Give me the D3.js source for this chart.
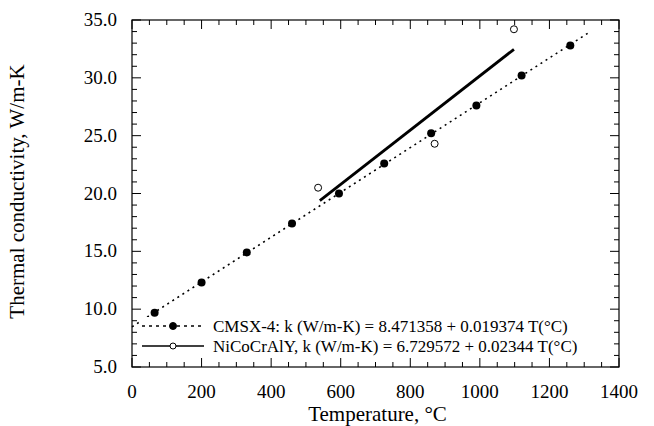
<!DOCTYPE html>
<html>
<head>
<meta charset="utf-8">
<script src="https://cdn.jsdelivr.net/npm/d3@7"></script>
<style>
  body { margin: 0; background: #fff; }
  text { font-family: "Liberation Serif", "Times New Roman", serif; fill: #000; }
</style>
</head>
<body>
<svg id="chart" width="654" height="426"></svg>
<script>
// CMSX-4 measured points (filled circles)
const cmsxT = [65, 200, 330, 460, 595, 725, 860, 990, 1120, 1260];
const cmsxK = [9.7, 12.3, 14.9, 17.4, 20.0, 22.6, 25.2, 27.6, 30.2, 32.8];
// NiCoCrAlY measured points (open circles)
const nicoT = [535, 870, 1098];
const nicoK = [20.5, 24.3, 34.2];
// fit lines: [intercept, slope, start, end]
const cmsxFit = [8.471358, 0.019374, 0, 1314];
const nicoFit = [6.729572, 0.02344, 540, 1098];
const xTicks = [0, 200, 400, 600, 800, 1000, 1200, 1400];
const yTicks = [5, 10, 15, 20, 25, 30, 35];
const legendLabels = [
  "CMSX-4: k (W/m-K) = 8.471358 + 0.019374 T(°C)",
  "NiCoCrAlY, k (W/m-K) = 6.729572 + 0.02344 T(°C)"
];

const margin = { top: 20, right: 35, bottom: 59, left: 132 },
  width = 654 - margin.left - margin.right,
  height = 426 - margin.top - margin.bottom;

const svg = d3.select("#chart")
  .append("g")
  .attr("transform", "translate(" + margin.left + "," + margin.top + ")");

const x = d3.scaleLinear().domain([0, 1400]).range([0, width]);
const y = d3.scaleLinear().domain([5, 35]).range([height, 0]);

// frame
svg.append("rect")
  .attr("width", width).attr("height", height)
  .attr("fill", "none").attr("stroke", "#000").attr("stroke-width", 1.2);

// fit lines
const line = d3.line().x(d => x(d[0])).y(d => y(d[1]));
const fitPts = f => [f[2], f[3]].map(t => [t, f[0] + f[1] * t]);

svg.append("path")
  .attr("d", line(fitPts(cmsxFit)))
  .attr("fill", "none").attr("stroke", "#000")
  .attr("stroke-width", 1.6).attr("stroke-dasharray", "2,4");

svg.append("path")
  .attr("d", line(fitPts(nicoFit)))
  .attr("fill", "none").attr("stroke", "#000")
  .attr("stroke-width", 2.8);

// legend
const leg = svg.append("g").attr("transform", "translate(10," + (height - 41) + ")");
legendLabels.forEach((lab, i) => {
  const g = leg.append("g").attr("transform", "translate(0," + (i * 20) + ")");
  g.append("rect").attr("x", -1).attr("y", -9).attr("width", 475).attr("height", 18).attr("fill", "#fff");
  g.append("line").attr("x1", 0).attr("x2", 62).attr("y1", 0).attr("y2", 0)
    .attr("stroke", "#000")
    .attr("stroke-width", i === 0 ? 1.3 : 1.6)
    .attr("stroke-dasharray", i === 0 ? "3,4" : null);
  g.append("circle").attr("cx", 31).attr("cy", 0).attr("r", i === 0 ? 3.5 : 3)
    .attr("fill", i === 0 ? "#000" : "#fff").attr("stroke", "#000");
  g.append("text").attr("x", 71).attr("y", 5.5).style("font-size", "17px").text(lab);
});

// minor + major ticks, all four sides, pointing inward
const xMinor = d3.range(0, 1401, 50);
const yMinor = d3.range(5, 35.01, 1);
const tickG = svg.append("g").attr("stroke", "#000").attr("stroke-width", 1);
xMinor.forEach(v => {
  const len = v % 200 === 0 ? 9 : 5;
  tickG.append("line").attr("x1", x(v)).attr("x2", x(v)).attr("y1", height).attr("y2", height - len);
  tickG.append("line").attr("x1", x(v)).attr("x2", x(v)).attr("y1", 0).attr("y2", len);
});
yMinor.forEach(v => {
  const len = Math.abs(v % 5) < 1e-6 ? 9 : 5;
  tickG.append("line").attr("x1", 0).attr("x2", len).attr("y1", y(v)).attr("y2", y(v));
  tickG.append("line").attr("x1", width).attr("x2", width - len).attr("y1", y(v)).attr("y2", y(v));
});

// points
svg.selectAll(".cmsx")
  .data(cmsxT.map((t, i) => [t, cmsxK[i]])).enter()
  .append("circle")
  .attr("cx", d => x(d[0])).attr("cy", d => y(d[1]))
  .attr("r", 4).attr("fill", "#000");

svg.selectAll(".nico")
  .data(nicoT.map((t, i) => [t, nicoK[i]])).enter()
  .append("circle")
  .attr("cx", d => x(d[0])).attr("cy", d => y(d[1]))
  .attr("r", 3.5).attr("fill", "#fff").attr("stroke", "#000").attr("stroke-width", 1);

// tick labels
svg.selectAll(".xlab")
  .data(xTicks).enter()
  .append("text")
  .attr("x", d => x(d))
  .attr("y", height + 31)
  .attr("text-anchor", "middle")
  .style("font-size", "19px")
  .text(d => d);

svg.selectAll(".ylab")
  .data(yTicks).enter()
  .append("text")
  .attr("x", -15)
  .attr("y", d => y(d) + 6)
  .attr("text-anchor", "end")
  .style("font-size", "19px")
  .text(d => d3.format(".1f")(d));

// axis titles
svg.append("text")
  .attr("x", width / 2 + 2)
  .attr("y", height + 54)
  .attr("text-anchor", "middle")
  .style("font-size", "21px")
  .text("Temperature, °C");

svg.append("text")
  .attr("transform", "translate(" + (-108) + "," + (height / 2 - 2) + ")rotate(-90)")
  .attr("text-anchor", "middle")
  .style("font-size", "21px")
  .text("Thermal conductivity, W/m-K");
</script>
</body>
</html>
